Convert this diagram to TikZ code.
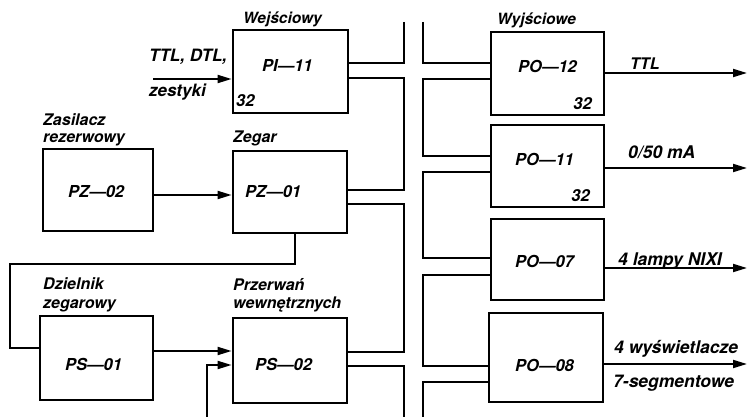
\documentclass[tikz,border=0pt]{standalone}
\usepackage{fontspec}
\setmainfont{TeX Gyre Heros}
\usetikzlibrary{arrows.meta}
\begin{document}
\begin{tikzpicture}[x=1pt,y=-1pt,
  blk/.style={draw,line width=2.8pt,inner sep=0pt},
  conn/.style={line width=1.9pt},
  arr/.style={conn,-{Triangle[length=14pt,width=8pt]}},
  txt/.style={font=\fontsize{16}{18}\selectfont\bfseries\itshape,inner sep=0pt,anchor=base west},
  otxt/.style={font=\fontsize{17.5}{19}\selectfont\bfseries\itshape,inner sep=0pt,anchor=base west},
  big/.style={font=\fontsize{16.5}{18}\selectfont\bfseries\itshape,inner sep=0pt,anchor=base west}]
\useasboundingbox (0,0) rectangle (750,417);
% boxes
\node[blk,minimum width=115pt,minimum height=83pt] (pi) at (290.5,71.5) {};
\node[blk,minimum width=110pt,minimum height=82pt] (pz2) at (98,190) {};
\node[blk,minimum width=114pt,minimum height=82pt] (pz1) at (290,192) {};
\node[blk,minimum width=113pt,minimum height=84pt] (ps1) at (96.5,358) {};
\node[blk,minimum width=114pt,minimum height=85pt] (ps2) at (290,360.5) {};
\node[blk,minimum width=113pt,minimum height=83pt] (po12) at (547.5,73.5) {};
\node[blk,minimum width=113pt,minimum height=82pt] (po11) at (547.5,166) {};
\node[blk,minimum width=113pt,minimum height=81pt] (po07) at (547.5,259.5) {};
\node[blk,minimum width=114pt,minimum height=89pt] (po08) at (546,357.5) {};
% box texts
\node[big] (tpi) at (262,72) {PI—11};
\node[big] (tpo12) at (518,73) {PO—12};
\node[big] (tpo11) at (515,166) {PO—11};
\node[big] (tpo07) at (515,267) {PO—07};
\node[big] (tpo08) at (515,371) {PO—08};
\node[big] (tpz2) at (68,197) {PZ—02};
\node[big] (tpz1) at (245,197) {PZ—01};
\node[big] (tps1) at (65,370) {PS—01};
\node[big] (tps2) at (255,370) {PS—02};
\node[big] (n32a) at (236,107) {32};
\node[big,anchor=base east] (n32b) at (592,110) {32};
\node[big,anchor=base east] (n32c) at (590,201) {32};
% labels
\node[txt,font=\fontsize{15.5}{17}\selectfont\bfseries\itshape] (lwe) at (243,24) {Wejściowy};
\node[txt,font=\fontsize{15.5}{17}\selectfont\bfseries\itshape] (lwy) at (497,25) {Wyjściowe};
\node[otxt,font=\fontsize{17}{19}\selectfont\bfseries\itshape] (lttl) at (149,62) {TTL, DTL,};
\node[otxt,font=\fontsize{17}{19}\selectfont\bfseries\itshape] (lzes) at (149,97) {zestyki};
\node[txt] (lzas) at (43,126) {Zasilacz};
\node[txt] (lrez) at (43,143) {rezerwowy};
\node[txt] (lzeg) at (233,143) {Zegar};
\node[txt] (ldz) at (43,289) {Dzielnik};
\node[txt] (lzg) at (43,308) {zegarowy};
\node[txt] (lprz) at (233,290) {Przerwań};
\node[txt] (lwew) at (233,308) {wewnętrznych};
\node[txt] (o1t) at (630,70) {TTL};
\node[otxt] (o2t) at (628,159) {0/50 mA};
\node[otxt] (o3t) at (618,265) {4 lampy NIXI};
\node[otxt] (o4t) at (614,353) {4 wyświetlacze};
\node[otxt] (o5t) at (613,387) {7-segmentowe};
% free ends
\coordinate (in1) at (153,79);
\coordinate (in2) at (207,417);
\coordinate (out1) at (747,73);
\coordinate (out2) at (747,168);
\coordinate (out3) at (747,268);
\coordinate (out4) at (747,364);
\coordinate (bl0) at (404,22);
\coordinate (bl5) at (404,417);
\coordinate (br0) at (423,22);
\coordinate (br5) at (423,417);
% connectors
\draw[arr] (in1) -- (pi.west |- in1);
\draw[arr] (pz2.east |- 0,195) -- (pz1.west |- 0,195);
\draw[arr] (ps1.east |- 0,351) -- (ps2.west |- 0,351);
\draw[arr] (in2) -- (207,365) -- (ps2.west |- 0,365);
\draw[conn] (pz1.south -| 295,0) -- (295,264) -- (10,264) -- (10,348) -- (ps1.west |- 0,348);
% outputs
\draw[arr] (po12.east |- out1) -- (out1);
\draw[arr] (po11.east |- out2) -- (out2);
\draw[arr] (po07.east |- out3) -- (out3);
\draw[arr] (po08.east |- out4) -- (out4);
% left bus side
\draw[conn] (bl0) -- (404,63) -- (pi.east |- 0,63);
\draw[conn] (pi.east |- 0,78) -- (404,78) -- (404,190) -- (pz1.east |- 0,190);
\draw[conn] (pz1.east |- 0,204) -- (404,204) -- (404,352) -- (ps2.east |- 0,352);
\draw[conn] (ps2.east |- 0,366) -- (404,366) -- (bl5);
% right bus side
\draw[conn] (br0) -- (423,63) -- (po12.west |- 0,63);
\draw[conn] (po12.west |- 0,79) -- (423,79) -- (423,156) -- (po11.west |- 0,156);
\draw[conn] (po11.west |- 0,172) -- (423,172) -- (423,258) -- (po07.west |- 0,258);
\draw[conn] (po07.west |- 0,275) -- (423,275) -- (423,366) -- (po08.west |- 0,366);
\draw[conn] (po08.west |- 0,382) -- (423,382) -- (br5);
\end{tikzpicture}
\end{document}
